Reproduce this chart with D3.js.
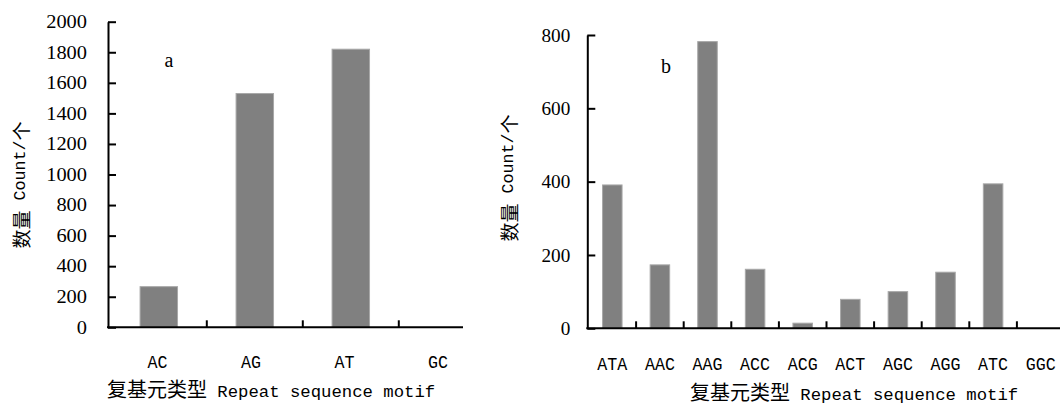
<!DOCTYPE html>
<html>
<head>
<meta charset="utf-8">
<script src="https://cdn.jsdelivr.net/npm/d3@7"></script>
<style>
  body { margin: 0; background: #fff; }
  svg { display: block; }
  .mono { font-family: "Liberation Mono", monospace; }
  .cjk { font-family: "Noto Sans CJK SC", sans-serif; }
</style>
</head>
<body>
<script>
// chart a: dinucleotide motifs
const motifsA = ["AC", "AG", "AT", "GC"];
const countsA = [266, 1530, 1820, 0];
const ticksA = [0, 200, 400, 600, 800, 1000, 1200, 1400, 1600, 1800, 2000];

// chart b: trinucleotide motifs
const motifsB = ["ATA", "AAC", "AAG", "ACC", "ACG", "ACT", "AGC", "AGG", "ATC", "GGC"];
const countsB = [391, 173, 782, 161, 14, 79, 100, 153, 394, 0];
const ticksB = [0, 200, 400, 600, 800];

const svg = d3.select("body").append("svg")
  .attr("width", 1060)
  .attr("height", 405);

const barFill = "#808080";
const barEdge = "#a8a8a8";

function drawPanel(opt) {
  const g = svg.append("g");

  const y = d3.scaleLinear().domain(opt.yDomain).range([opt.y0, opt.y1]);
  const x = d3.scaleBand().domain(opt.motifs).range([opt.xStart, opt.xStart + opt.step * opt.motifs.length]);
  const xl = d3.scaleBand().domain(opt.motifs).range([opt.xStart, opt.xStart + opt.labelStep * opt.motifs.length]);

  // bars
  const bw = x.bandwidth() * opt.barFrac;
  g.selectAll("rect.bar")
    .data(opt.counts)
    .enter()
    .append("rect")
    .attr("class", "bar")
    .attr("x", (d, i) => x(opt.motifs[i]) + (x.bandwidth() - bw) / 2)
    .attr("y", d => y(d))
    .attr("width", bw)
    .attr("height", d => y(0) - y(d))
    .attr("fill", barFill)
    .attr("stroke", barEdge)
    .attr("stroke-width", 1);

  // y axis, ticks pointing inward
  const ya = g.append("g")
    .attr("transform", `translate(${opt.axisX},0)`)
    .call(d3.axisLeft(y)
      .tickValues(opt.ticks)
      .tickFormat(d3.format("d"))
      .tickSizeInner(-8)
      .tickSizeOuter(0)
      .tickPadding(opt.tickPad));
  ya.attr("font-family", null).attr("font-size", null);
  ya.selectAll("path, line").attr("stroke", "#000").attr("stroke-width", 2);
  ya.selectAll("text")
    .style("font-family", "Liberation Serif")
    .style("font-size", opt.numSize + "px")
    .attr("fill", "#000")
    .attr("textLength", function () { return this.textContent.length * opt.digitW; })
    .attr("lengthAdjust", "spacingAndGlyphs");

  // x axis line
  g.append("line")
    .attr("x1", opt.axisX - 1)
    .attr("x2", opt.xAxisEnd)
    .attr("y1", y(0))
    .attr("y2", y(0))
    .attr("stroke", "#000")
    .attr("stroke-width", 2);

  // x ticks at category boundaries, pointing up
  g.selectAll("line.xtick")
    .data(opt.motifs.slice(1))
    .enter()
    .append("line")
    .attr("class", "xtick")
    .attr("x1", d => x(d))
    .attr("x2", d => x(d))
    .attr("y1", y(0))
    .attr("y2", y(0) - 7)
    .attr("stroke", "#000")
    .attr("stroke-width", 2);

  // category labels
  g.selectAll("text.cat")
    .data(opt.motifs)
    .enter()
    .append("text")
    .attr("class", "cat mono")
    .attr("x", d => xl(d) + xl.bandwidth() / 2)
    .attr("y", y(0) + opt.catOffset)
    .attr("text-anchor", "middle")
    .attr("font-size", 19)
    .attr("textLength", d => d.length * 10)
    .attr("lengthAdjust", "spacingAndGlyphs")
    .text(d => d);

  // x title
  const xt = g.append("text")
    .attr("x", opt.xTitleX)
    .attr("y", opt.xTitleY);
  xt.append("tspan").attr("class", "cjk").attr("font-size", 20).text("复基元类型");
  xt.append("tspan").attr("class", "mono").attr("font-size", 17.3).text(" Repeat sequence motif");

  // y title
  const yt = g.append("text")
    .attr("transform", `translate(${opt.yTitleX},${opt.yTitleY}) rotate(-90)`)
    .attr("text-anchor", "middle")
    .attr("dominant-baseline", "central");
  yt.append("tspan").attr("class", "cjk").attr("font-size", 19).text("数量");
  yt.append("tspan").attr("class", "mono").attr("font-size", 16.7).text(" Count/");
  yt.append("tspan").attr("class", "cjk").attr("font-size", 19).text("个");

  // panel letter
  g.append("text")
    .attr("x", opt.letterX)
    .attr("y", opt.letterY)
    .attr("text-anchor", "middle")
    .style("font-family", "Liberation Serif")
    .style("font-size", opt.letterSize + "px")
    .text(opt.letter);
}

drawPanel({
  motifs: motifsA, counts: countsA, ticks: ticksA,
  yDomain: [0, 2000], y0: 327.3, y1: 21.7,
  xStart: 110.8, step: 96, labelStep: 93.5, barFrac: 0.39,
  axisX: 108, xAxisEnd: 463, tickPad: 21,
  numSize: 18, digitW: 10.2,
  catOffset: 41,
  xTitleX: 107, xTitleY: 397,
  yTitleX: 20, yTitleY: 185,
  letter: "a", letterX: 169, letterY: 67, letterSize: 20
});

drawPanel({
  motifs: motifsB, counts: countsB, ticks: ticksB,
  yDomain: [0, 800], y0: 328.3, y1: 35,
  xStart: 588.5, step: 47.6, labelStep: 47.6, barFrac: 0.41,
  axisX: 587.3, xAxisEnd: 1060, tickPad: 17,
  numSize: 19, digitW: 9.6,
  catOffset: 42,
  xTitleX: 690, xTitleY: 400,
  yTitleX: 508, yTitleY: 178,
  letter: "b", letterX: 666, letterY: 73, letterSize: 20
});
</script>
</body>
</html>
